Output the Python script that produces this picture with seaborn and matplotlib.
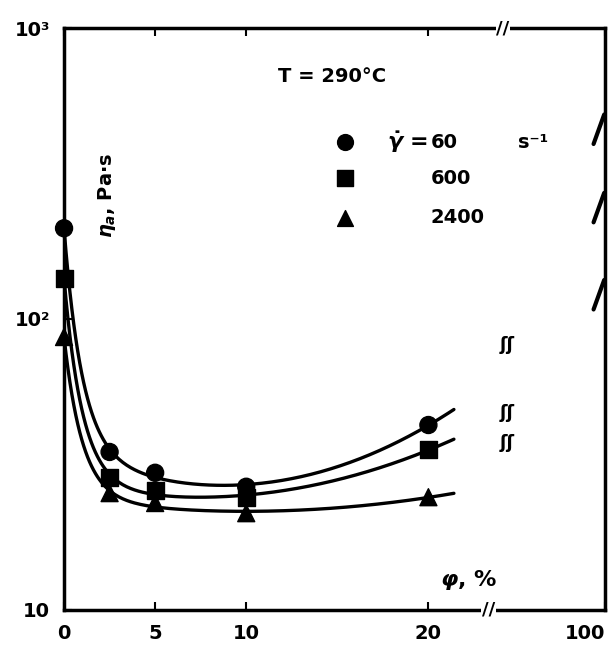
import numpy as np
import pandas as pd
import matplotlib
matplotlib.use("Agg")
import matplotlib.pyplot as plt
import seaborn as sns

# filler content phi (%) and apparent viscosity (Pa s) per shear rate
phi = [0, 2.5, 5, 10, 20]
eta_60 = [205, 34.9, 29.6, 26.5, 43.2]
eta_600 = [138, 28.6, 25.8, 24.4, 35.5]
eta_2400 = [86.7, 25.2, 23.3, 21.5, 24.4]
shear_rates = ["60", "600", "2400"]
markers = ["o", "s", "^"]

# neat polymer (phi = 100 %) values at the right edge
eta_pure = [515, 277, 139]

x_ticks = [0, 5, 10, 20, 29.7]
x_tick_labels = ["0", "5", "10", "20", "100"]
y_ticks = [10, 100, 1000]
y_tick_labels = ["10", "10²", "10³"]

rows = []
for rate, vals in zip(shear_rates, [eta_60, eta_600, eta_2400]):
    for p, v in zip(phi, vals):
        rows.append({"phi": p, "eta": v, "rate": rate})
df = pd.DataFrame(rows)

# smooth curve through each series: least squares in log space
def smooth_curve(x, y, x_new):
    x = np.asarray(x, float)
    basis = lambda t: np.column_stack([np.ones_like(t), t, t ** 2, np.exp(-t / 1.0)])
    coef, *_ = np.linalg.lstsq(basis(x), np.log10(y), rcond=None)
    return 10 ** (basis(x_new) @ coef)

x_fit = np.linspace(0, 21.4, 200)
fit_rows = []
for rate, vals in zip(shear_rates, [eta_60, eta_600, eta_2400]):
    for xx, yy in zip(x_fit, smooth_curve(phi, vals, x_fit)):
        fit_rows.append({"phi": xx, "eta": yy, "rate": rate})
fit_df = pd.DataFrame(fit_rows)

sns.set_style("ticks", {"axes.edgecolor": "black", "text.color": "black",
                        "xtick.color": "black", "ytick.color": "black"})
plt.rcParams["font.family"] = ["DejaVu Sans"]
plt.rcParams["font.weight"] = "bold"

fig = plt.figure(figsize=(6.1, 6.68), dpi=100)
ax = fig.add_axes([0.105, 0.087, 0.887, 0.871])

sns.lineplot(data=fit_df, x="phi", y="eta", hue="rate", palette=["black"] * 3,
             linewidth=2.4, legend=False, ax=ax, clip_on=False)
sns.scatterplot(data=df, x="phi", y="eta", style="rate", markers=dict(zip(shear_rates, markers)),
                color="black", s=150, edgecolor="black", legend=False, ax=ax, clip_on=False, zorder=5)

ax.set_yscale("log")
ax.set_xlim(0, 29.7)
ax.set_ylim(10, 1000)
ax.set_xticks(x_ticks)
ax.set_xticklabels(x_tick_labels, fontsize=14, fontweight="bold")
ax.get_xticklabels()[-1].set_horizontalalignment("right")
ax.set_yticks(y_ticks)
ax.set_yticklabels(y_tick_labels, fontsize=14, fontweight="bold")
ax.yaxis.set_minor_locator(matplotlib.ticker.NullLocator())
ax.tick_params(direction="in", length=6, width=1.5, pad=10, colors="black")
ax.tick_params(top=True, right=False)
ax.set_xlabel("")
ax.set_ylabel("")
for s in ax.spines.values():
    s.set_linewidth(2.5)
    s.set_color("black")

# axis breaks
for yy, xb in ((0, 23.3), (1, 24.1)):
    ax.text(xb, yy, "//", transform=ax.get_xaxis_transform(), ha="center", va="center",
            fontsize=13, fontweight="bold", bbox=dict(facecolor="white", edgecolor="none", pad=0.5))

# curve breaks
for yv in [81.5, 47.5, 37.5]:
    ax.text(24.3, yv, "ʃʃ", ha="center", va="center", fontsize=13, fontweight="bold")

# pure polymer strokes at the right edge
for v in eta_pure:
    ax.annotate("", xy=(29.7, v), xytext=(-9, -25), textcoords="offset points",
                arrowprops=dict(arrowstyle="-", lw=3, color="black"), annotation_clip=False)

ax.text(0.495, 0.916, "T = 290°C", transform=ax.transAxes, ha="center", va="center",
        fontsize=14, fontweight="bold")

# legend
key_y = [0.804, 0.742, 0.674]
for m, yk, lab in zip(markers, key_y, shear_rates):
    ax.scatter([0.519], [yk], marker=m, s=130, color="black", transform=ax.transAxes, clip_on=False)
    ax.text(0.677, yk, lab, transform=ax.transAxes, ha="left", va="center", fontsize=14, fontweight="bold")
ax.text(0.597, key_y[0], r"$\dot{\gamma}$ =", transform=ax.transAxes, ha="left", va="center",
        fontsize=16, fontweight="bold")
ax.text(0.839, key_y[0], "s⁻¹", transform=ax.transAxes, ha="left", va="center",
        fontsize=14, fontweight="bold")

ax.text(0.079, 0.713, r"$\eta_a$, Pa·s", transform=ax.transAxes, rotation=90, ha="center",
        va="center", fontsize=14, fontweight="bold")
ax.text(0.747, 0.052, r"$\varphi$, %", transform=ax.transAxes, ha="center", va="center",
        fontsize=16, fontweight="bold")

fig.savefig("out.png", dpi=100)
